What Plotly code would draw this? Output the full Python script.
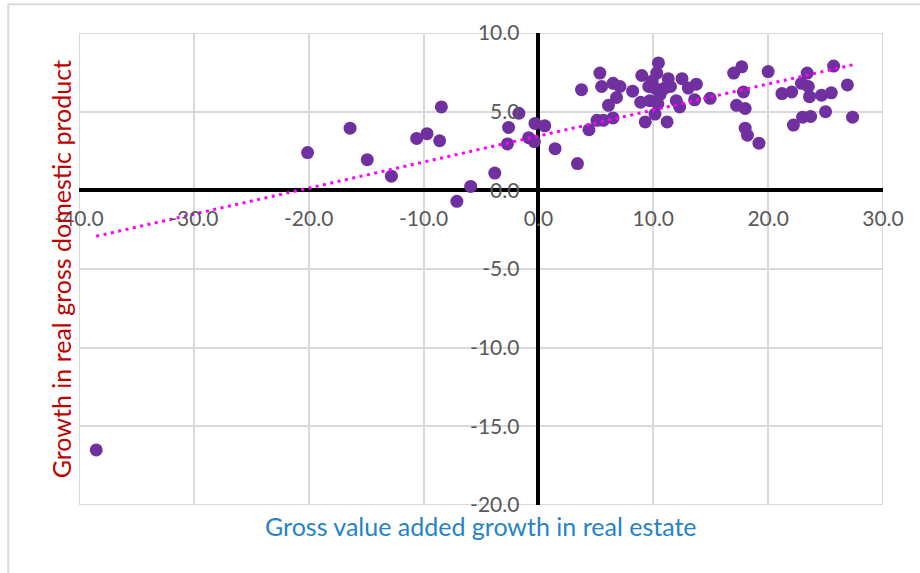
import numpy as np
import plotly.graph_objects as go

# Real estate gross value added growth (%) vs real GDP growth (%)
gva_real_estate = [
    -38.5, -20.1, -16.4, -14.9, -12.8, -10.6, -9.7, -8.6, -8.45, -7.1,
    -5.9, -3.8, -2.7, -2.6, -1.7, -0.85, -0.35, -0.3, 0.55, 1.45,
    3.4, 3.75, 4.4, 5.1, 5.65, 6.5, 5.35, 5.5, 6.1, 6.5,
    6.8, 7.1, 8.2, 9.0, 10.45, 10.3, 11.3, 12.5, 9.6, 10.15,
    11.0, 11.5, 8.9, 9.7, 10.4, 9.3, 10.15, 11.2, 12.0, 12.3,
    13.05, 13.75, 13.6, 14.95, 17.0, 17.7, 17.85, 17.25, 18.0, 18.0,
    18.2, 19.2, 20.0, 21.2, 22.05, 22.2, 22.9, 23.4, 23.5, 23.6,
    23.0, 23.7, 24.65, 25.5, 25.0, 25.7, 26.9, 27.35, 9.9, 10.6,
]
gdp_growth = [
    -16.5, 2.4, 3.95, 1.95, 0.9, 3.3, 3.6, 3.15, 5.3, -0.7,
    0.25, 1.1, 2.95, 4.0, 4.9, 3.35, 3.1, 4.25, 4.1, 2.65,
    1.7, 6.4, 3.85, 4.45, 4.45, 4.6, 7.45, 6.6, 5.4, 6.8,
    5.9, 6.6, 6.3, 7.3, 8.1, 7.45, 7.1, 7.1, 6.6, 6.5,
    6.5, 6.6, 5.6, 5.7, 5.5, 4.35, 4.85, 4.35, 5.7, 5.3,
    6.5, 6.75, 5.75, 5.85, 7.45, 7.85, 6.25, 5.4, 5.2, 3.95,
    3.5, 3.0, 7.55, 6.15, 6.25, 4.15, 6.8, 7.45, 6.6, 5.95,
    4.65, 4.7, 6.05, 6.2, 5.0, 7.9, 6.7, 4.65, 6.95, 6.1,
]

x_tick_vals = [-40, -30, -20, -10, 0, 10, 20, 30]
x_tick_text = ["-40.0", "-30.0", "-20.0", "-10.0", "0.0", "10.0", "20.0", "30.0"]
y_tick_vals = [-20, -15, -10, -5, 0, 5, 10]
y_tick_text = ["-20.0", "-15.0", "-10.0", "-5.0", "0.0", "5.0", "10.0"]

x_title = "Gross value added growth in real estate"
y_title = "Growth in real gross domestic product"

x_range = [-40, 30]
y_range = [-20, 10]

# Linear trend (least squares) over the span of the data
xs = np.array(gva_real_estate)
ys = np.array(gdp_growth)
slope, intercept = np.polyfit(xs, ys, 1)
trend_x = [xs.min(), xs.max()]
trend_y = [slope * v + intercept for v in trend_x]

FONT = "Lato"
GRID = "#d9d9d9"

fig = go.Figure()
fig.add_trace(go.Scatter(
    x=gva_real_estate, y=gdp_growth, mode="markers",
    marker=dict(color="#7030A0", size=13, line=dict(width=0)),
    showlegend=False, hoverinfo="x+y",
))
fig.add_trace(go.Scatter(
    x=trend_x, y=trend_y, mode="lines",
    line=dict(color="#FF00FF", width=3, dash="3px,4.5px"),
    showlegend=False, hoverinfo="skip",
))

tick_font = dict(family=FONT, size=21, color="#595959")

fig.update_layout(
    width=920, height=573,
    margin=dict(l=79, r=37, t=33, b=68),
    paper_bgcolor="white", plot_bgcolor="white",
    xaxis=dict(
        range=x_range, tickvals=x_tick_vals, ticktext=x_tick_text,
        showgrid=True, gridcolor=GRID, gridwidth=1.5,
        zeroline=True, zerolinecolor="black", zerolinewidth=4,
        showline=False, ticks="",
        anchor="free", position=(0 - y_range[0]) / (y_range[1] - y_range[0]),
        ticklabelstandoff=14, tickfont=tick_font,
    ),
    yaxis=dict(
        range=y_range, tickvals=y_tick_vals, ticktext=y_tick_text,
        showgrid=True, gridcolor=GRID, gridwidth=1.5,
        zeroline=True, zerolinecolor="black", zerolinewidth=4,
        showline=False, ticks="",
        anchor="free", position=(0 - x_range[0]) / (x_range[1] - x_range[0]),
        ticklabelstandoff=19, tickfont=tick_font,
    ),
    shapes=[
        # plot area border
        dict(type="rect", xref="x", yref="y", x0=x_range[0], x1=x_range[1],
             y0=y_range[0], y1=y_range[1], line=dict(color=GRID, width=2),
             layer="below"),
        # chart frame (left and top edges)
        dict(type="line", xref="paper", yref="paper", x0=-0.088, x1=-0.088,
             y0=-0.2, y1=1.061, line=dict(color=GRID, width=2)),
        dict(type="line", xref="paper", yref="paper", x0=-0.088, x1=1.1,
             y0=1.061, y1=1.061, line=dict(color=GRID, width=2)),
    ],
    annotations=[
        dict(text=x_title, xref="paper", yref="paper", x=0.5, y=-0.044,
             xanchor="center", yanchor="middle", showarrow=False,
             font=dict(family=FONT, size=25, color="#2683C6")),
        dict(text=y_title, xref="paper", yref="paper", x=-0.022, y=0.5,
             xanchor="center", yanchor="middle", showarrow=False, textangle=-90,
             font=dict(family=FONT, size=25, color="#C00000")),
    ],
)

fig.write_html("out.html")
